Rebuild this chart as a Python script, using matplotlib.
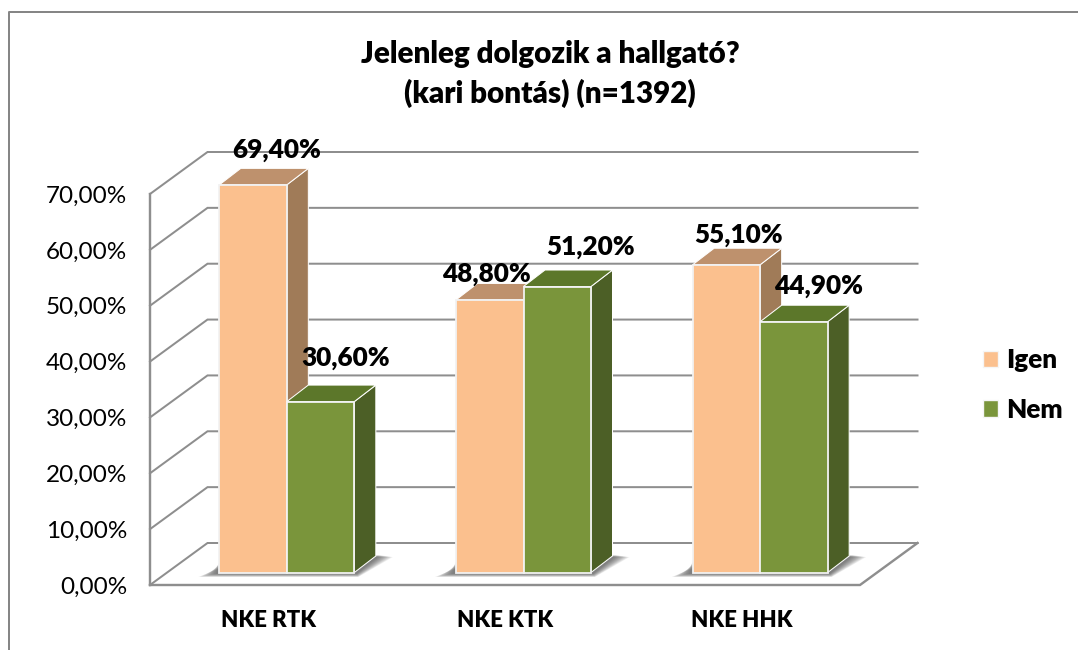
import matplotlib
matplotlib.use("Agg")
import matplotlib.pyplot as plt
from matplotlib.patches import Polygon, Patch
from matplotlib.lines import Line2D

categories = ["NKE RTK", "NKE KTK", "NKE HHK"]
series_names = ["Igen", "Nem"]
igen = [69.40, 48.80, 55.10]
nem = [30.60, 51.20, 44.90]
y_ticks = [0, 10, 20, 30, 40, 50, 60, 70]
y_tick_labels = ["0,00%", "10,00%", "20,00%", "30,00%", "40,00%", "50,00%", "60,00%", "70,00%"]
title_text = "Jelenleg dolgozik a hallgató?\n(kari bontás) (n=1392)"

# styles
plt.rcParams["font.family"] = ["Lato", "DejaVu Sans"]
W, H = 1078, 650
PX = 72 / 100  # points per pixel
GRID = "#8E8E8E"
BOLD = 800
front_cols = ["#FBC08E", "#7A953B"]
top_cols = ["#BE916D", "#5C772A"]
side_cols = ["#A07B58", "#4C5F26"]
label_offsets = [[(23.5, 35), (-3, 26), (12, 30)], [(25, 44), (33, 39.5), (25, 36)]]

fig = plt.figure(figsize=(W / 100, H / 100), dpi=100, facecolor="white")
left, right, bottom, top = 150, 860, 585, 194
ax = fig.add_axes([left / W, 1 - bottom / H, (right - left) / W, (bottom - top) / H])
ax.set_xlim(-0.5, 2.5)
ax.set_ylim(0, 70)
ax.patch.set_visible(False)
for s in ax.spines.values():
    s.set_visible(False)

ux = (right - left) / 3      # pixels per category
uy = (bottom - top) / 70     # pixels per percent
wall_dx, wall_dy = 57.5 / ux, 42 / uy
bar_w = 67.5 / ux
bar_shift = 18.5 / ux
bar_base = 12.5 / uy
dep_dx, dep_dy = 21.5 / ux, 16.5 / uy

# outer chart frame
fig.add_artist(Line2D([8.5 / W, 8.5 / W, 1], [0, 1 - 12 / H, 1 - 12 / H], color="#868686", lw=2 * PX))

# walls and gridlines
x0, x1 = -0.5, 2.5
for v in y_ticks:
    ax.plot([x0, x0 + wall_dx, x1 + wall_dx], [v, v + wall_dy, v + wall_dy],
            color=GRID, lw=2 * PX, clip_on=False, solid_joinstyle="miter", zorder=1)
ax.plot([x0, x0], [0, 70], color=GRID, lw=2.4 * PX, clip_on=False, zorder=1)
ax.plot([x0, x1, x1 + wall_dx], [0, 0, wall_dy], color=GRID, lw=2.4 * PX, clip_on=False,
        solid_joinstyle="miter", zorder=1)

ax.set_yticks(y_ticks, y_tick_labels, fontsize=17.5)
ax.set_xticks(range(3), categories, fontsize=16, fontweight=BOLD)
ax.tick_params(axis="both", length=0)
ax.tick_params(axis="y", pad=16.5)
ax.tick_params(axis="x", pad=18)

z = 3
for i in range(3):
    xl = i + bar_shift - bar_w
    xr = i + bar_shift + bar_w
    # soft floor shadow, layered from wide and faint to narrow and dark
    n = 12
    for k in range(n):
        g = (n - k) / n
        ax.add_patch(Polygon([
            (xl - (2 + g * 19) / ux, bar_base - (1 + g * 3.5) / uy),
            (xr + (2 + g * 2) / ux, bar_base - (1 + g * 3.5) / uy),
            (xr + (dep_dx * ux + 3 + g * 14) / ux, bar_base + (dep_dy * uy + 1 - g * 2) / uy),
            (xl + dep_dx, bar_base + dep_dy), (xl, bar_base + (4 + 8 * (1 - g)) / uy)],
            closed=True, fc="#4A4A4A", ec="none", alpha=0.09, clip_on=False, zorder=2))
    for j, vals in enumerate([igen, nem]):
        a = xl + j * bar_w
        b = a + bar_w
        v = vals[i] + bar_base
        ax.add_patch(Polygon([(b, bar_base), (b + dep_dx, bar_base + dep_dy), (b + dep_dx, v + dep_dy), (b, v)],
                             fc=side_cols[j], ec="white", lw=1 * PX, clip_on=False, zorder=z))
        ax.add_patch(Polygon([(a, v), (b, v), (b + dep_dx, v + dep_dy), (a + dep_dx, v + dep_dy)],
                             fc=top_cols[j], ec="white", lw=1 * PX, clip_on=False, zorder=z))
        ax.add_patch(Polygon([(a, bar_base), (b, bar_base), (b, v), (a, v)],
                             fc=front_cols[j], ec="#F2F2F2", lw=1.8 * PX, clip_on=False, zorder=z))
        z += 1

# data labels on top
for j, vals in enumerate([igen, nem]):
    for i, val in enumerate(vals):
        a = i + bar_shift - bar_w + (j + 0.5) * bar_w
        dx, dy = label_offsets[j][i]
        ax.annotate(f"{val:.2f}%".replace(".", ","), (a, val + bar_base),
                    xytext=(dx * PX, dy * PX), textcoords="offset points",
                    ha="center", va="center", fontsize=18.8, fontweight=BOLD,
                    color="black", annotation_clip=False, zorder=20)

fig.text(550 / W, 1 - 74 / H, title_text, ha="center", va="center", fontsize=21.3,
         fontweight=BOLD, color="black", linespacing=1.42)

handles = [Patch(fc=front_cols[j], ec="#F5F5F5", lw=1) for j in range(2)]
leg = fig.legend(handles, series_names, loc="center left", bbox_to_anchor=(983 / W, 1 - 385 / H),
                 frameon=False, handlelength=0.58, handleheight=0.58,
                 handletextpad=0.3, labelspacing=0.98, borderpad=0, borderaxespad=0,
                 prop={"weight": BOLD, "size": 18.8})

fig.savefig("out.png", dpi=100, facecolor="white")
